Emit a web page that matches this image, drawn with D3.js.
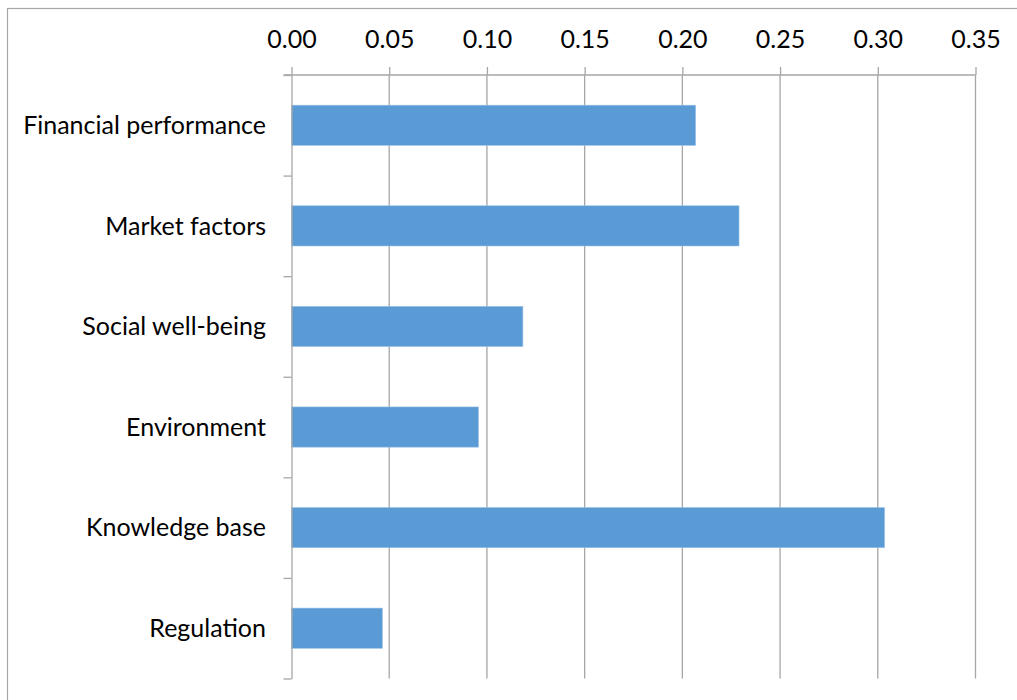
<!DOCTYPE html>
<html>
<head>
<meta charset="utf-8">
<script src="https://cdn.jsdelivr.net/npm/d3@7"></script>
<style>
  body { margin: 0; background: #fff; }
  text { font-family: Lato, "Open Sans", sans-serif; fill: #000; }
</style>
</head>
<body>
<div id="chart"></div>
<script>
const categories = ["Financial performance", "Market factors", "Social well-being", "Environment", "Knowledge base", "Regulation"];
const values = [0.2068, 0.229, 0.1184, 0.0957, 0.3035, 0.0465];
const tickValues = [0, 0.05, 0.10, 0.15, 0.20, 0.25, 0.30, 0.35];

const width = 1017, height = 700;
const plotLeft = 291.5, plotRight = 975.5, plotTop = 75, plotBottom = 678.5;

const svg = d3.select("#chart").append("svg")
  .attr("width", width)
  .attr("height", height);

// chart border (runs off right / bottom edge like the reference)
svg.append("rect")
  .attr("x", 7.5).attr("y", 8.5)
  .attr("width", 1030).attr("height", 720)
  .attr("fill", "none")
  .attr("stroke", "#a6a6a6")
  .attr("stroke-width", 1.2);

const x = d3.scaleLinear().domain([0, 0.35]).range([plotLeft, plotRight]);
const y = d3.scaleBand().domain(categories).range([plotTop, plotBottom])
  .paddingInner(0.6).paddingOuter(0.3);

// gridlines
svg.append("g")
  .selectAll("line")
  .data(tickValues.slice(1))
  .enter().append("line")
  .attr("x1", d => x(d)).attr("x2", d => x(d))
  .attr("y1", plotTop).attr("y2", plotBottom)
  .attr("stroke", "#a6a6a6")
  .attr("stroke-width", 1.3);

// bars
svg.append("g")
  .selectAll("rect")
  .data(categories)
  .enter().append("rect")
  .attr("x", x(0))
  .attr("y", d => y(d))
  .attr("width", (d, i) => x(values[i]) - x(0))
  .attr("height", y.bandwidth())
  .attr("fill", "#5b9bd5")
  .attr("stroke", "#9dc3e6")
  .attr("stroke-width", 0.6);

// top axis
const xAxis = d3.axisTop(x)
  .tickValues(tickValues)
  .tickFormat(d3.format(".2f"))
  .tickSize(8)
  .tickSizeOuter(0)
  .tickPadding(19);

const gx = svg.append("g")
  .attr("transform", `translate(0,${plotTop})`)
  .call(xAxis);
gx.select(".domain").attr("stroke", "#a6a6a6").attr("stroke-width", 1.3)
  .attr("d", `M${plotLeft - 8},0H${plotRight}`);
gx.selectAll(".tick line").attr("stroke", "#a6a6a6").attr("stroke-width", 1.3);
gx.selectAll(".tick text")
  .style("font-size", "25px")
  .attr("fill", "#000");

// left axis: ticks at category boundaries
const yEdge = d3.scaleLinear().domain([0, categories.length]).range([plotTop, plotBottom]);
const gy = svg.append("g")
  .attr("transform", `translate(${plotLeft},0)`)
  .call(d3.axisLeft(yEdge).tickValues(d3.range(categories.length + 1))
    .tickFormat("").tickSize(8).tickSizeOuter(0));
gy.select(".domain").attr("stroke", "#a6a6a6").attr("stroke-width", 1.3);
gy.selectAll(".tick line").attr("stroke", "#a6a6a6").attr("stroke-width", 1.3);

// category labels
svg.append("g")
  .selectAll("text")
  .data(categories)
  .enter().append("text")
  .attr("x", 266)
  .attr("y", d => y(d) + y.bandwidth() / 2)
  .attr("dy", "0.35em")
  .attr("text-anchor", "end")
  .style("font-size", "25px")
  .text(d => d);
</script>
</body>
</html>
